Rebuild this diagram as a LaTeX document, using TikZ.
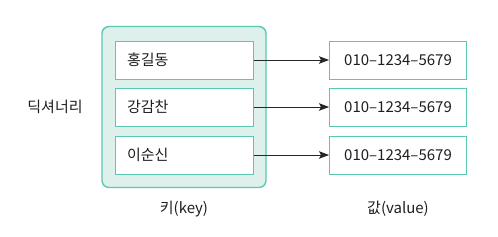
\documentclass[tikz,border=0pt]{standalone}
\usepackage{fontspec}
\setmainfont{Noto Sans CJK KR}
\usetikzlibrary{arrows.meta}
\definecolor{dictline}{RGB}{92,200,178}
\definecolor{dictfill}{RGB}{221,240,235}
\definecolor{inktext}{RGB}{30,30,30}

\begin{document}
\begin{tikzpicture}[x=1pt,y=-1pt,>={Stealth[length=10pt,width=7.5pt,inset=2pt]},font=\fontsize{15}{18}\selectfont,text=inktext,
  outer/.style={draw=dictline,line width=1.4pt,rounded corners=7pt,fill=dictfill,minimum width=164pt,minimum height=161pt,inner sep=0pt},
  keybox/.style={draw=dictline,line width=1pt,fill=white,minimum height=38pt,text width=114pt,inner xsep=12pt,align=left},
  valbox/.style={draw=dictline,line width=1pt,fill=white,minimum width=137pt,minimum height=38pt,align=center},
  link/.style={->,line width=0.8pt,black!85}]
\useasboundingbox (0,0) rectangle (498,236);
\node[outer] (dict) at (184,107) {};
\node[keybox] (k1) at (184,60) {홍길동};
\node[keybox] (k2) at (184,107) {강감찬};
\node[keybox] (k3) at (184,155) {이순신};
\node[valbox] (v1) at (398,60) {010–1234–5679};
\node[valbox] (v2) at (398,107) {010–1234–5679};
\node[valbox] (v3) at (398,155) {010–1234–5679};
\draw[link] (k1) -- (v1);
\draw[link] (k2) -- (v2);
\draw[link] (k3) -- (v3);
\node (name) at (55,107) {딕셔너리};
\node (keylabel) at (184,209) {키(key)};
\node (vallabel) at (398,209) {값(value)};
\end{tikzpicture}
\end{document}
